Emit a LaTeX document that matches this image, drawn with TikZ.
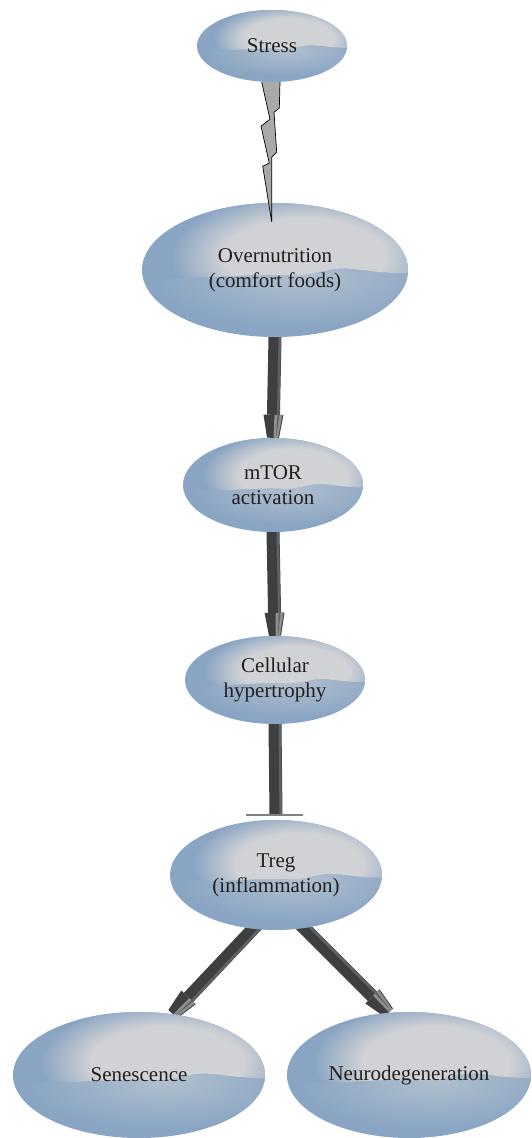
\documentclass[tikz,border=0pt]{standalone}
\usepackage{fontspec}
\setmainfont{Liberation Serif}
\usetikzlibrary{calc,shapes.geometric}
\definecolor{blobbase}{HTML}{8AA5C3}
\definecolor{blobhl}{HTML}{D1D2D5}
\definecolor{blobglow}{HTML}{B0BFCE}
\definecolor{arrdark}{HTML}{3D3F40}
\definecolor{arrmid}{HTML}{5F6163}
\definecolor{arrlight}{HTML}{8C8E90}
\definecolor{boltfill}{HTML}{A9A9A9}
\definecolor{txt}{HTML}{231F20}
\definecolor{barcol}{HTML}{7E8082}
\pgfdeclarelayer{bg}
\pgfsetlayers{bg,main}
\pgfdeclareradialshading{hlshade}{\pgfpoint{0bp}{0bp}}{color(0bp)=(blobhl); color(15bp)=(blobhl); color(25bp)=(blobbase); color(50bp)=(blobbase)}
\pgfdeclareradialshading{glowshade}{\pgfpoint{0bp}{0bp}}{color(0bp)=(blobglow); color(25bp)=(blobbase); color(50bp)=(blobbase)}
\newcommand\mywave{.. controls (-0.5,-0.14) and (-0.2,-0.05) .. (0.1,-0.08) .. controls (0.3,-0.1) and (0.38,0.04) .. (0.55,0.02) .. controls (0.7,0.0) and (0.8,-0.06) .. (1.1,-0.05)}
\tikzset{
  blobnode/.style={ellipse, inner sep=0pt, align=center, text=txt,
    font=\fontsize{21}{25}\selectfont},
}
\newcommand\blob[6]{%
  \begin{scope}[shift={(#2,#3)}, xscale=#4, yscale=-#5]
    \clip (0,0) ellipse (1 and 1);
    \fill[blobbase] (-1.05,-1.05) rectangle (1.05,1.05);
    \begin{scope}
      \clip (-1.1,-1.1) -- (-1.1,-0.14) \mywave -- (1.1,-1.1) -- cycle;
      \shade[shading=glowshade] (0.2,-0.1) ellipse (1.1 and 0.75);
    \end{scope}
    \begin{scope}
      \clip (-1.1,1.1) -- (-1.1,-0.14) \mywave -- (1.1,1.1) -- cycle;
      \shade[shading=hlshade] (0.22,0.2) ellipse (1.0 and 0.95);
    \end{scope}
  \end{scope}
  \node[blobnode, minimum width=#4*2pt, minimum height=#5*2pt] (#1) at (#2,#3) {#6};
}
\newcommand\fatshaft[3]{% start, end, extension into start
  \path (#1) coordinate (fa-s) (#2) coordinate (fa-b);
  \coordinate (fa-s0) at ($(fa-s)!-#3!(fa-b)$);
  \fill[arrdark] ($(fa-s0)!6.5pt!90:(fa-b)$) -- ($(fa-b)!6.5pt!-90:(fa-s0)$)
     -- ($(fa-b)!6.5pt!90:(fa-s0)$) -- ($(fa-s0)!6.5pt!-90:(fa-b)$) -- cycle;
  \fill[arrmid] ($(fa-s0)!3.5pt!90:(fa-b)$) -- ($(fa-b)!3.5pt!-90:(fa-s0)$)
     -- ($(fa-b)!6pt!-90:(fa-s0)$) -- ($(fa-s0)!6pt!90:(fa-b)$) -- cycle;
}
\newcommand\fatarrow[3]{% start, tip, extension
  \path (#1) coordinate (fa-s) (#2) coordinate (fa-t);
  \coordinate (fa-hb) at ($(fa-t)!23pt!(fa-s)$);
  \fatshaft{fa-s}{fa-hb}{#3}
  \fill[arrdark] ($(fa-hb)!10pt!90:(fa-t)$) -- ($(fa-t)!6pt!-90:(fa-hb)$)
     -- ($(fa-t)!6pt!90:(fa-hb)$) -- ($(fa-hb)!10pt!-90:(fa-t)$) -- cycle;
  \fill[arrlight] ($(fa-hb)!1pt!90:(fa-t)$) -- ($(fa-hb)!9pt!90:(fa-t)$)
     -- ($(fa-t)!5pt!-90:(fa-hb)$) -- ($(fa-t)!0.5pt!-90:(fa-hb)$) -- cycle;
  \fill[arrmid] ($(fa-hb)!4pt!90:(fa-t)$) -- ($(fa-hb)!6pt!90:(fa-t)$)
     -- ($(fa-t)!3pt!-90:(fa-hb)$) -- cycle;
}
\begin{document}
\begin{tikzpicture}[x=1pt, y=-1pt]
\useasboundingbox (0,0) rectangle (531,1138);
\blob{stress}{272}{46}{75}{36}{Stress}
\blob{over}{275}{270}{133}{67}{Overnutrition\\(comfort foods)}
\blob{mtor}{273}{485}{90}{47}{mTOR\\activation}
\blob{cell}{275}{680}{90}{44}{Cellular\\hypertrophy}
\blob{treg}{276}{875}{106}{55}{Treg\\(inflammation)}
\blob{sen}{139}{1075}{126}{63}{Senescence}
\blob{neuro}{409}{1075}{122}{63}{Neurodegeneration}
\begin{pgfonlayer}{bg}
  \fatarrow{over.south}{mtor.north}{6pt}
  \fatarrow{mtor.south}{cell.north}{6pt}
  \coordinate (ibar) at ($(treg.north)+(0,-5)$);
  \fatshaft{cell.south}{ibar}{6pt}
  \fatarrow{treg.247}{sen.61}{12pt}
  \fatarrow{treg.298}{neuro.108}{12pt}
\end{pgfonlayer}
\draw[barcol, line width=2pt] ($(ibar)+(-30,0)$) -- ($(ibar)+(27,0)$);
% lightning bolt
\fill[boltfill] ($(stress.south)+(-10.3,-0.2)$) -- ($(stress.south)+(-2,37)$)
  -- ($(stress.south)+(-11,44)$) -- ($(stress.south)+(-2.7,81)$)
  -- ($(stress.south)+(-9.3,84)$) -- ($(over.north)+(-3.3,19)$)
  -- ($(stress.south)+(-0.3,75)$) -- ($(stress.south)+(4.7,70)$)
  -- ($(stress.south)+(2,30)$) -- ($(stress.south)+(7.3,26)$)
  -- ($(stress.south)+(8,-0.2)$) -- cycle;
\draw[black, line width=0.7pt, line join=miter] ($(stress.south)+(-10.3,-0.2)$) -- ($(stress.south)+(-2,37)$)
  -- ($(stress.south)+(-11,44)$) -- ($(stress.south)+(-2.7,81)$)
  -- ($(stress.south)+(-9.3,84)$) -- ($(over.north)+(-3.3,19)$)
  -- ($(stress.south)+(-0.3,75)$) -- ($(stress.south)+(4.7,70)$)
  -- ($(stress.south)+(2,30)$) -- ($(stress.south)+(7.3,26)$)
  -- ($(stress.south)+(8,-0.2)$);
\end{tikzpicture}
\end{document}
